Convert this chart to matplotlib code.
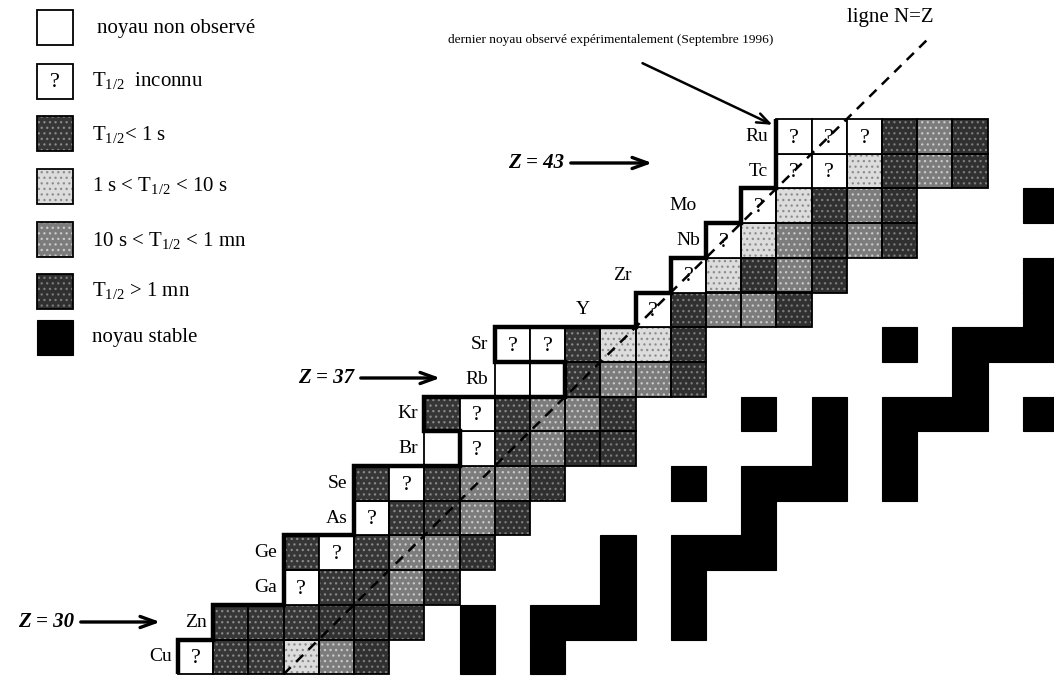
import matplotlib
matplotlib.use('Agg')
import matplotlib.pyplot as plt
from matplotlib.patches import Rectangle

plt.rcParams['font.family'] = ['Liberation Serif', 'DejaVu Serif']
plt.rcParams['mathtext.fontset'] = 'custom'
plt.rcParams['mathtext.rm'] = 'Liberation Serif'
plt.rcParams['mathtext.it'] = 'Liberation Serif:italic'
plt.rcParams['mathtext.bf'] = 'Liberation Serif:bold'
plt.rcParams['hatch.linewidth'] = 0.9

# ---- chart data -------------------------------------------------------
elements = ['Cu', 'Zn', 'Ga', 'Ge', 'As', 'Se', 'Br', 'Kr',
            'Rb', 'Sr', 'Y', 'Zr', 'Nb', 'Mo', 'Tc', 'Ru']
proton_numbers = [29, 30, 31, 32, 33, 34, 35, 36,
                  37, 38, 39, 40, 41, 42, 43, 44]
first_neutron = [26, 27, 29, 29, 31, 31, 33, 33,
                 35, 35, 39, 40, 41, 42, 43, 43]
# one letter per nucleus, starting at first_neutron:
# x = not observed, ? = half-life unknown, a = <1 s, b = 1-10 s,
# c = 10 s - 1 mn, d = >1 mn
half_life_class = ['?aabcd', 'aaaddd', '?aacd', 'a?accd', '?aacd', 'a?accd',
                   'x?acdd', 'a?accd', 'xxaccd', '??abbd', '?dccd', '?bdcd',
                   '?bcdcd', '?bdcd', '??bdcd', '???dcd']
stable_z = [29, 29,
            30, 30, 30, 30, 30,
            31, 31,
            32, 32, 32, 32,
            33,
            34, 34, 34, 34, 34,
            35, 35,
            36, 36, 36, 36, 36, 36,
            37,
            38, 38, 38, 38,
            39, 40, 42]
stable_n = [34, 36,
            34, 36, 37, 38, 40,
            38, 40,
            38, 40, 41, 42,
            42,
            40, 42, 43, 44, 46,
            44, 46,
            42, 44, 46, 47, 48, 50,
            48,
            46, 48, 49, 50,
            50, 50, 50]
z_marked = [30, 37, 43]

legend_labels = ['noyau non observé',
                 r'T$_{\mathrm{1/2}}$  inconnu',
                 r'T$_{\mathrm{1/2}}$< 1 s',
                 r'1 s < T$_{\mathrm{1/2}}$ < 10 s',
                 r'10 s < T$_{\mathrm{1/2}}$ < 1 mn',
                 r'T$_{\mathrm{1/2}}$ > 1 mn',
                 'noyau stable']
legend_classes = ['x', '?', 'a', 'b', 'c', 'd', 's']

# ---- styles ------------------------------------------------------------
fill = {'x': 'white', '?': 'white', 'a': '#363636', 'b': '#dcdcdc',
        'c': '#7c7c7c', 'd': '#303030', 's': 'black'}
speckle = {'a': ('...', '#8a8a8a'), 'b': ('...', '#8c8c8c'),
           'c': ('...', '#cacaca'), 'd': ('...', '#7c7c7c')}

W, H = 1054, 677
fig = plt.figure(figsize=(W / 100, H / 100), dpi=100)
ax = fig.add_axes([0, 0, 1, 1])

# pixel -> data helpers (one cell = one unit of N and Z)
CW, CH = 35.2, 34.7
X0, Y0 = 178.0, 119.0     # left edge of N=26, top edge of Z=44


def dx(px):
    return 26 + (px - X0) / CW


def dy(py):
    return 45 - (py - Y0) / CH


ax.set_xlim(dx(0), dx(W))
ax.set_ylim(dy(H), dy(0))
ax.axis('off')


def cell(x, y, cls, w=1.0, h=1.0, lw=1.3):
    if cls in speckle:
        pat, col = speckle[cls]
        ax.add_patch(Rectangle((x, y), w, h, facecolor=fill[cls],
                               edgecolor=col, hatch=pat, linewidth=0,
                               zorder=2))
        ax.add_patch(Rectangle((x, y), w, h, facecolor='none',
                               edgecolor='black', linewidth=lw, zorder=3))
    elif cls == 's':
        ax.add_patch(Rectangle((x, y), w, h, facecolor='black',
                               edgecolor='black', linewidth=0.8, zorder=2))
    else:
        ax.add_patch(Rectangle((x, y), w, h, facecolor='white',
                               edgecolor='black', linewidth=lw, zorder=3))
    if cls == '?':
        ax.text(x + w / 2, y + h / 2 - 0.05, '?', ha='center', va='center',
                fontsize=16, zorder=6)


# nuclei with measured / unknown half-lives
first_seen = []
for el, z, n0, codes in zip(elements, proton_numbers, first_neutron,
                            half_life_class):
    for k, c in enumerate(codes):
        cell(n0 + k, z, c)
    first_seen.append(n0 + next(k for k, c in enumerate(codes) if c != 'x'))

# stable nuclei
for z, n in zip(stable_z, stable_n):
    cell(n, z, 's')

# element symbols, right-aligned before each row
label_right = {'Y': 590, 'Zr': 632, 'Nb': 700, 'Mo': 697,
               'Tc': 768, 'Ru': 768}
for el, z, n0 in zip(elements, proton_numbers, first_neutron):
    xr = dx(label_right[el]) if el in label_right else n0 - 0.18
    ax.text(xr, z + 0.5, el, ha='right', va='center', fontsize=14, zorder=6)

# thick staircase bounding the observed nuclei
bx, by = [first_seen[0]], [proton_numbers[0]]
for n, z in zip(first_seen, proton_numbers):
    bx += [n, n]
    by += [z, z + 1]
ax.plot(bx, by, color='black', lw=3.2, solid_joinstyle='miter',
        solid_capstyle='butt', zorder=5)

# N = Z line
top = dy(40)
ax.plot([29, top], [29, top], color='black', lw=1.8,
        dashes=(4, 3), zorder=7)
ax.text(dx(890), dy(17), 'ligne N=Z', ha='center', va='center',
        fontsize=15, zorder=6)

# Z markers
arrow_y = {30: 622, 37: 378, 43: 163}
arrow_x = {30: (78, 163), 37: (358, 443), 43: (568, 655)}
for z in z_marked:
    x1, x2 = arrow_x[z]
    ax.annotate('', xy=(dx(x2), dy(arrow_y[z])), xytext=(dx(x1), dy(arrow_y[z])),
                arrowprops=dict(arrowstyle='->,head_length=1.1,head_width=0.4',
                                lw=2.4, color='black'), zorder=6)
    ax.text(dx(x1 - 4), dy(arrow_y[z]), f'Z = {z}', ha='right', va='center',
            fontsize=15, fontweight='bold', fontstyle='italic', zorder=6)

# latest observed nucleus
ax.text(dx(611), dy(40), 'dernier noyau observé expérimentalement (Septembre 1996)',
        ha='center', va='center', fontsize=9.6, zorder=6)
ax.annotate('', xy=(dx(775), dy(126)), xytext=(dx(640), dy(62)),
            arrowprops=dict(arrowstyle='->,head_length=0.9,head_width=0.35',
                            lw=1.8, color='black'), zorder=6)

# legend
leg_y = [28, 81, 134, 186, 240, 291, 338]
for lab, cls, yc in zip(legend_labels, legend_classes, leg_y):
    y_bot = dy(yc + 17.5)
    cell(dx(37), y_bot, cls, w=36 / CW, h=35 / CH, lw=1.3)
    ax.text(dx(92 if cls != 'x' else 97), dy(yc), lab, ha='left', va='center',
            fontsize=15, zorder=6)

fig.savefig('out.png', dpi=100)
